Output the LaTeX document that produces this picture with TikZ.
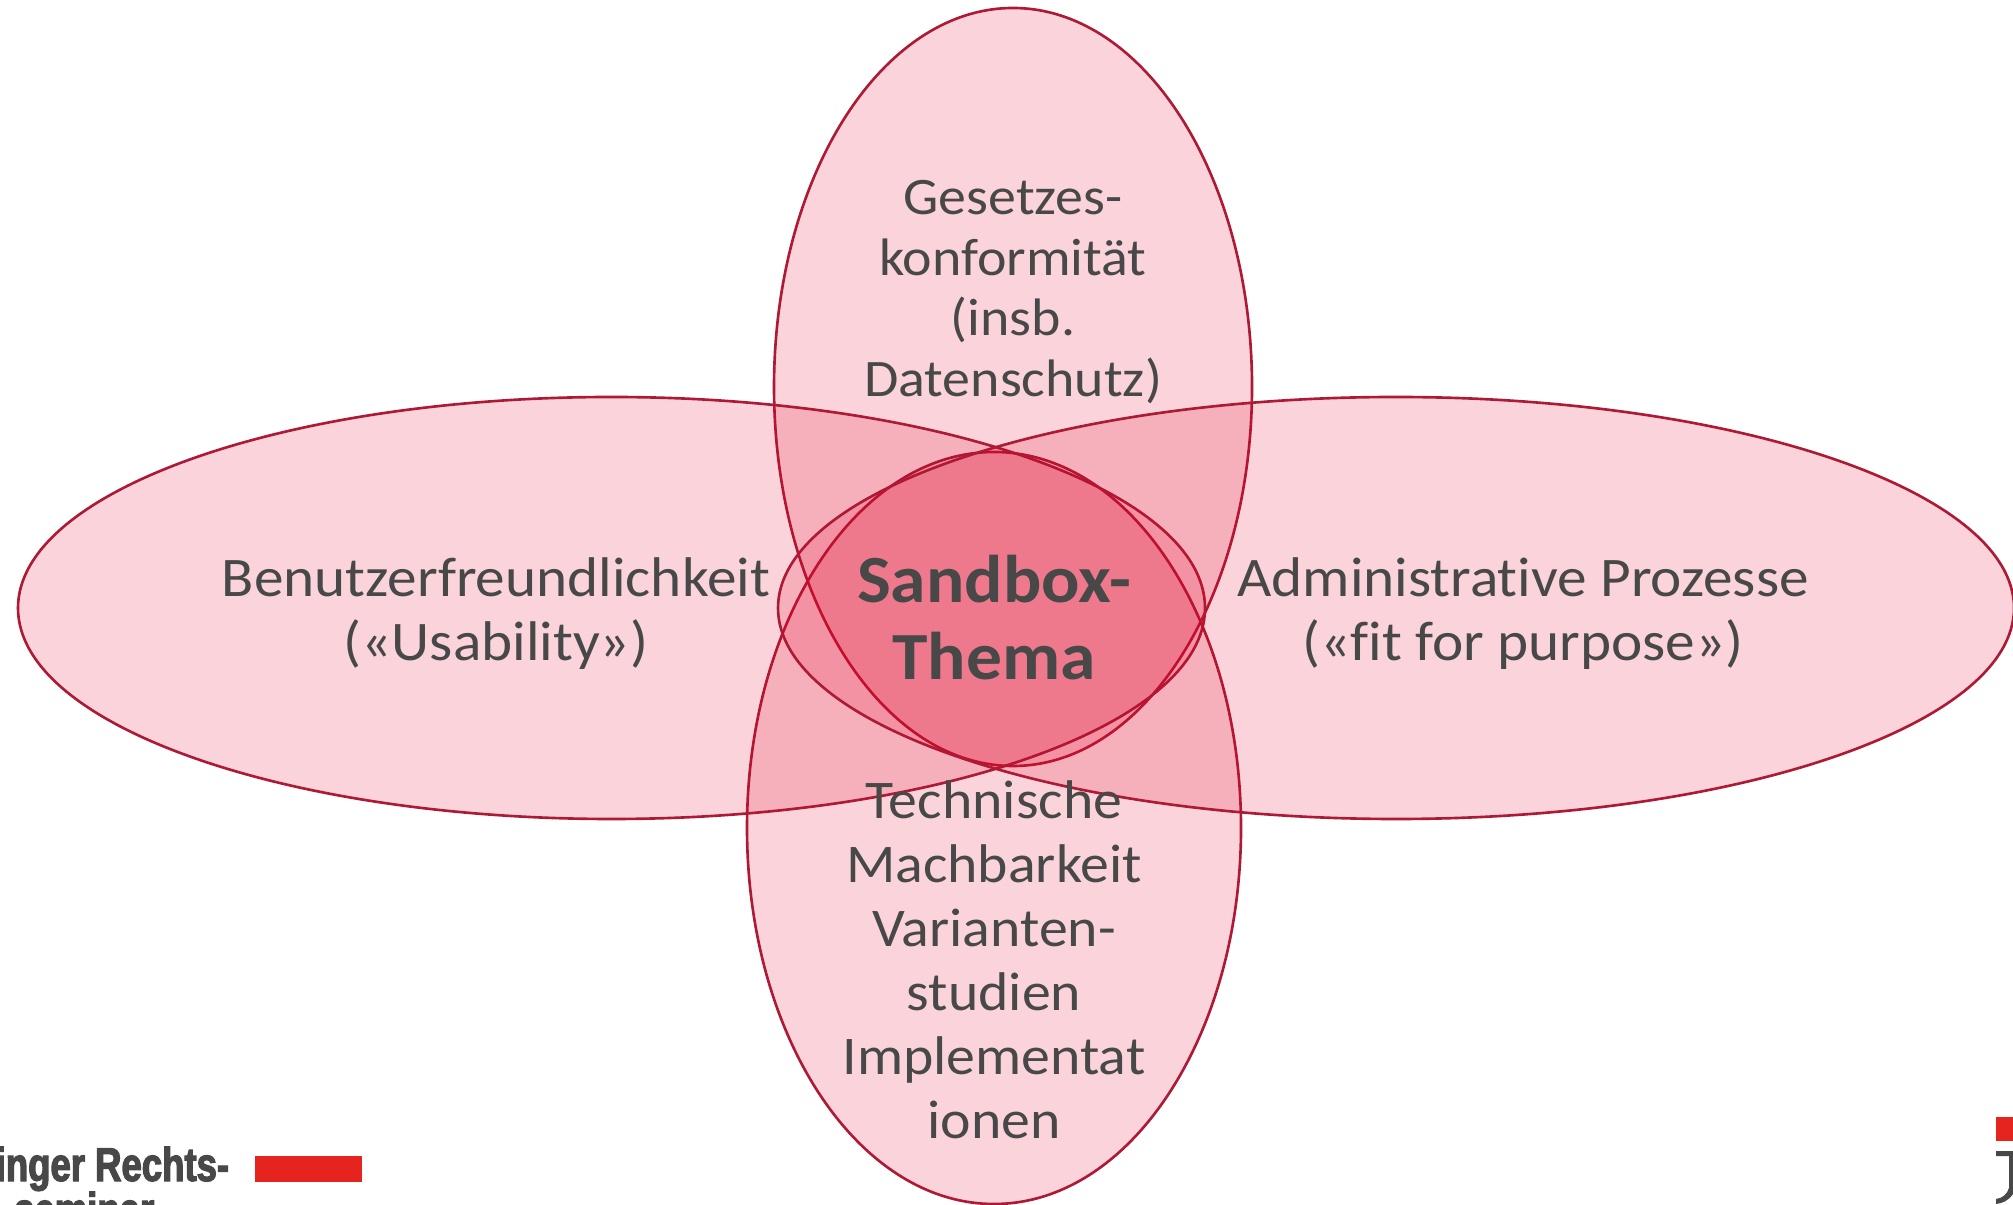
\documentclass[tikz,border=0pt]{standalone}
\usepackage{fontspec}
\setmainfont[FakeStretch=1.06,Ligatures=CommonOff]{Carlito}
\newfontfamily\logofont[FakeStretch=.77,FakeBold=2.5]{Liberation Sans}
\definecolor{petalfill}{HTML}{E10025}
\definecolor{petaledge}{HTML}{AE1A35}
\definecolor{textgrey}{HTML}{484848}
\definecolor{logored}{HTML}{E5231F}
\tikzset{
  petal/.style={ellipse,draw=petaledge,line width=.75pt,fill=petalfill,fill opacity=.17,draw opacity=1,inner sep=0pt},
  label/.style={text=textgrey,align=center,font=\fontsize{15.9}{18.2}\selectfont,inner sep=0pt},
  logo/.style={text=textgrey,font=\logofont\bfseries\fontsize{13.5}{13.5}\selectfont,inner sep=0pt}
}
\usetikzlibrary{shapes.geometric}
\begin{document}
\begin{tikzpicture}
        \useasboundingbox (0,0) rectangle (20.13,12.04);
        \clip (0,0) rectangle (20.13,12.04);
        \node[petal,minimum width=4.78cm,minimum height=7.58cm] (top) at (10.13,8.17) {};
        \node[petal,minimum width=4.94cm,minimum height=7.52cm] (bottom) at (9.94,3.76) {};
        \node[petal,minimum width=11.87cm,minimum height=4.22cm] (left) at (6.115,5.96) {};
        \node[petal,minimum width=12.36cm,minimum height=4.22cm] (right) at (13.96,5.96) {};
        \node[label,font=\fontsize{15}{17.3}\selectfont] (toptext) at (10.13,9.12) {Gesetzes-\\konformität\\(insb.\\Datenschutz)};
        \node[label] (lefttext) at (4.96,5.90) {Benutzerfreundlichkeit\\(«Usability»)};
        \node[label] (righttext) at (15.23,5.90) {Administrative Prozesse\\(«fit for purpose»)};
        \node[label,font=\fontsize{15.5}{18.2}\selectfont] (bottomtext) at (9.94,2.44) {Technische\\Machbarkeit\\Varianten-\\studien\\Implementat\\ionen};
        \node[label,font=\bfseries\fontsize{19.2}{21.9}\selectfont] (centertext) at (9.94,5.86) {Sandbox-\\Thema};
        \node[logo,anchor=base west] (logotext) at (-.05,.23) {inger Rechts-};
        \node[logo,anchor=base east] (logotextb) at (1.55,-.22) {seminar};
        \fill[logored] (2.55,.22) rectangle (3.62,.48);
        \fill[logored] (19.96,.63) rectangle (20.13,.87);
        \fill[textgrey] (19.96,.53) -- (20.13,.53) -- (20.13,.1) .. controls (20.08,.03) and (20.03,.01) .. (19.96,0) -- (19.96,.05) .. controls (20.03,.06) and (20.07,.1) .. (20.09,.16) -- (20.09,.48) -- (19.96,.48) -- cycle;
\end{tikzpicture}
\end{document}
